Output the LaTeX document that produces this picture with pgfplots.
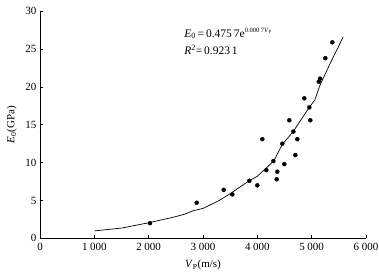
\documentclass[border=0pt]{standalone}
\usepackage{fontspec}
\setmainfont{Liberation Serif}
\usepackage{pgfplots}
\pgfplotsset{compat=1.18}
\begin{document}
\begin{tikzpicture}
\useasboundingbox (-40pt,-36.7pt) rectangle (339pt,238.3pt);
\begin{axis}[
  scale only axis,
  width=326pt, height=227pt,
  xmin=0, xmax=6000, ymin=0, ymax=30,
  axis lines=left,
  axis line style={-, line width=0.8pt},
  xtick={0,1000,...,6000},
  ytick={0,5,...,30},
  tick align=inside,
  major tick length=3pt,
  tick style={line width=0.6pt, black},
  /pgf/number format/assume math mode=true,
  /pgf/number format/1000 sep={\hspace{2.6pt}},
  scaled x ticks=false,
  tick label style={font=\fontsize{11}{13}\selectfont},
  xticklabel style={yshift=-1pt},
  label style={font=\fontsize{11}{13}\selectfont},
  xlabel={\textit{V}\textsubscript{P}(m/s)},
  ylabel={\textit{E}\textsubscript{0}(GPa)},
  xlabel style={yshift=-3pt},
  ylabel style={at={(axis cs:-520,15)}, anchor=center},
  clip=false,
]
\addplot[only marks, mark=*, mark size=2pt, black] coordinates {
(2025,2.0) (2884,4.7) (3381,6.4) (3540,5.8) (3853,7.6) (4000,7.0)
(4092,13.1) (4166,9.0) (4295,10.2) (4356,7.8) (4368,8.8) (4460,12.5)
(4497,9.8) (4589,15.6) (4663,14.1) (4700,11.0) (4736,13.1) (4865,18.5)
(4957,17.3) (4975,15.6) (5130,20.7) (5154,21.1) (5252,23.8) (5380,25.9)
};
\addplot[black, line width=0.7pt] coordinates {
(1000,0.98) (1500,1.35) (2000,2.05) (2450,2.78) (2670,3.2) (2820,3.65)
(3000,3.95) (3300,5.0) (3500,5.9) (3850,7.6) (4000,8.2) (4300,10.2)
(4460,12.4) (4660,14.1) (4960,17.35) (5060,18.3) (5150,20.2) (5340,23.1) (5580,26.6)
};
\node[anchor=base west, font=\fontsize{11.5}{13}\selectfont] at (axis cs:2590,26.6)
  {\textit{E}\textsubscript{0}\,=\,0.475\,7e\textsuperscript{\fontsize{6.5}{7}\selectfont 0.000\hspace{1.5pt}7\textit{V}\textsubscript{P}}};
\node[anchor=base west, font=\fontsize{11.5}{13}\selectfont] at (axis cs:2590,24.3)
  {\textit{R}\textsuperscript{2}=\,0.923\,1};
\end{axis}
\end{tikzpicture}
\end{document}
